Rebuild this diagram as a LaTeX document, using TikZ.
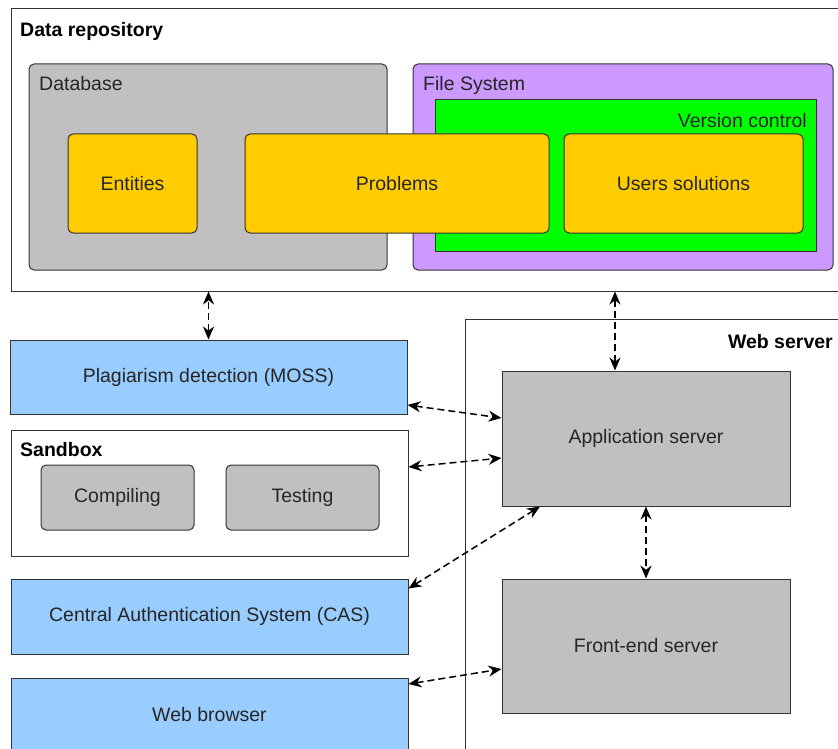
\documentclass[tikz,border=0pt]{standalone}
\usepackage{fontspec}
\setmainfont{Liberation Sans}
\usetikzlibrary{arrows.meta}
\definecolor{boxgrey}{HTML}{C0C0C0}
\definecolor{boxyellow}{HTML}{FFCC00}
\definecolor{boxpurple}{HTML}{CC99FF}
\definecolor{boxgreen}{HTML}{00FF00}
\definecolor{boxblue}{HTML}{99CCFF}
\definecolor{edge}{HTML}{333333}

\begin{document}
\begin{tikzpicture}[x=1pt, y=-1pt,
  every node/.style={font=\fontsize{19.5}{22}\selectfont, text=black!85},
  frame/.style={draw=edge, line width=1pt, inner sep=0pt},
  grp/.style={frame, rounded corners=5pt},
  part/.style={grp, fill=boxyellow},
  service/.style={frame, fill=boxblue},
  server/.style={frame, fill=boxgrey},
  boxtitle/.style={font=\fontsize{19.5}{22}\selectfont\bfseries, text=black, inner sep=0pt},
  boxlabel/.style={inner sep=0pt},
  flow/.style={dash pattern=on 7pt off 4pt, line width=1.5pt, {Stealth[length=13pt,width=11pt]}-{Stealth[length=13pt,width=11pt]}}]

\useasboundingbox (0,0) rectangle (838,749);

\node[frame, minimum width=840pt, minimum height=282pt] (repo) at (431,150) {};
\node[boxtitle, anchor=base west] (repotitle) at (20,37) {Data repository};
\node[grp, fill=boxgrey, minimum width=358pt, minimum height=206pt] (db) at (208,167) {};
\node[boxlabel, anchor=base west] (dbtitle) at (39,91) {Database};
\node[grp, fill=boxpurple, minimum width=420pt, minimum height=206pt] (fs) at (623,167) {};
\node[boxlabel, anchor=base west] (fstitle) at (423,91) {File System};
\node[frame, fill=boxgreen, minimum width=381pt, minimum height=151pt] (vcs) at (625.5,175.5) {};
\node[boxlabel, anchor=base east] (vcstitle) at (807,128) {Version control};
\node[part, minimum width=129pt, minimum height=99pt] (entities) at (132.5,183.5) {Entities};
\node[part, minimum width=304pt, minimum height=99pt] (problems) at (397,183.5) {Problems};
\node[part, minimum width=239pt, minimum height=99pt] (solutions) at (683.5,183.5) {Users solutions};

\node[frame, minimum width=400pt, minimum height=450pt] (web) at (665,544) {};
\node[boxtitle, anchor=base east] (webtitle) at (833,348) {Web server};
\node[server, minimum width=288pt, minimum height=135pt] (app) at (646,438.5) {Application server};
\node[server, minimum width=288pt, minimum height=134pt] (front) at (646,646) {Front-end server};

\node[service, minimum width=397pt, minimum height=74pt] (plag) at (208.5,377) {Plagiarism detection (MOSS)};
\node[frame, minimum width=397pt, minimum height=126pt] (sandbox) at (209.5,493) {};
\node[boxtitle, anchor=base west] (sbtitle) at (20,456) {Sandbox};
\node[grp, fill=boxgrey, minimum width=153pt, minimum height=65pt] (compiling) at (117.5,497.5) {Compiling};
\node[grp, fill=boxgrey, minimum width=153pt, minimum height=65pt] (testing) at (302.5,497.5) {Testing};
\node[service, minimum width=397pt, minimum height=75pt] (cas) at (209.5,616.5) {Central Authentication System (CAS)};
\node[service, minimum width=397pt, minimum height=74pt] (browser) at (209.5,715) {Web browser};

\draw[flow] (plag.north) to (plag.north |- repo.south);
\draw[flow] ([xshift=-31pt]app.north) to ([xshift=-31pt]app.north |- repo.south);
\draw[flow] ([yshift=-28pt]plag.east) to ([yshift=20.5pt]app.west);
\draw[flow] ([yshift=26pt]sandbox.east) to ([yshift=-19.5pt]app.west);
\draw[flow] ([yshift=28pt]cas.east) to ([xshift=-106pt]app.south);
\draw[flow] (app.south) to (front.north);
\draw[flow] ([yshift=31pt]browser.east) to ([yshift=-23pt]front.west);
\end{tikzpicture}
\end{document}
